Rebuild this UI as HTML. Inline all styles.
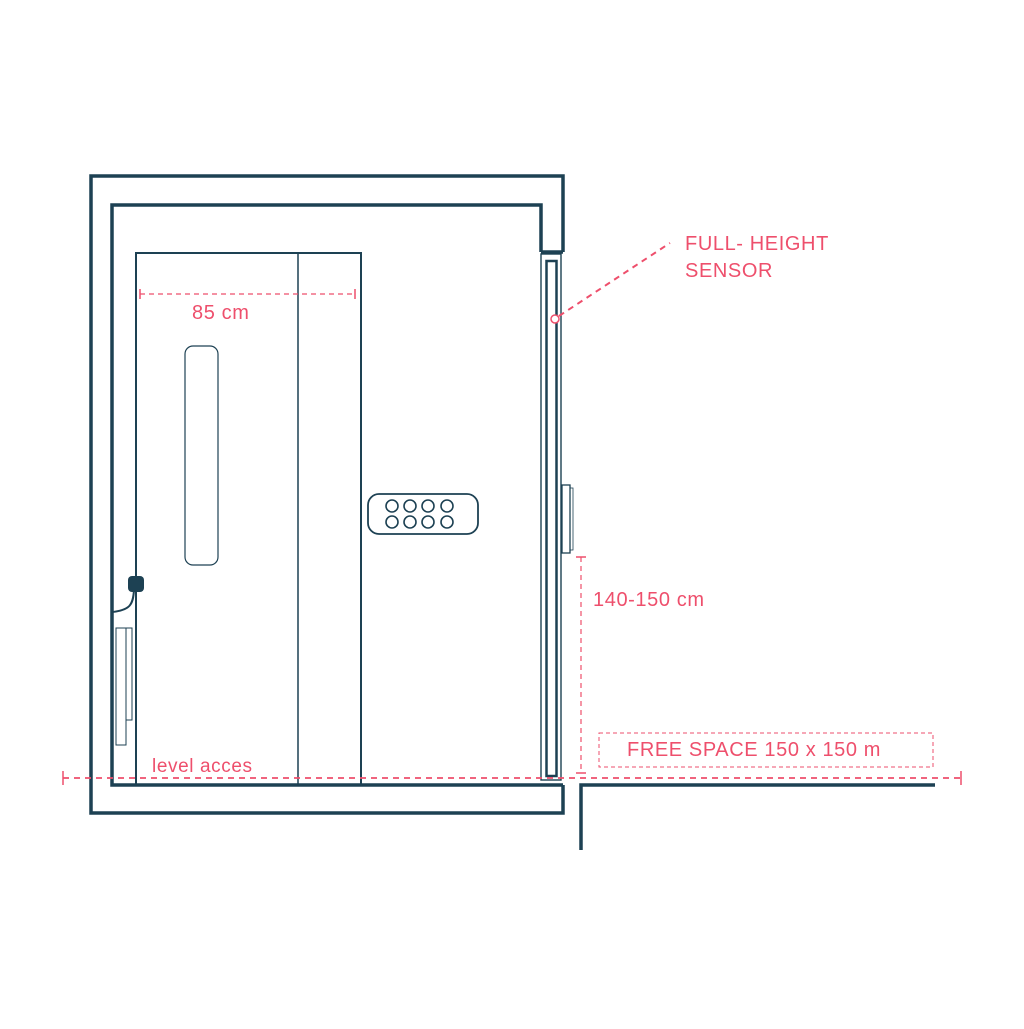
<!DOCTYPE html>
<html><head><style>html,body{margin:0;padding:0;background:#fff}</style></head><body>
<svg width="1024" height="1024" viewBox="0 0 1024 1024" xmlns="http://www.w3.org/2000/svg">
<rect width="1024" height="1024" fill="#fff"/>
<g fill="none" stroke="#1d4153" stroke-linejoin="miter">
<polyline points="563,252 563,176 91,176 91,813 563,813 563,785" stroke-width="3.5"/>
<polyline points="541,252 541,205 112,205 112,785 563,785" stroke-width="3.5"/>
<line x1="541" y1="252" x2="563" y2="252" stroke-width="3.5"/>
<polyline points="581,850 581,785 935,785" stroke-width="3.5"/>
<rect x="136" y="253" width="225" height="532" stroke-width="2"/>
<line x1="298" y1="253" x2="298" y2="785" stroke-width="1.5"/>
<rect x="185" y="346" width="33" height="219" rx="8" stroke-width="1.2"/>
<rect x="368" y="494" width="110" height="40" rx="11" stroke-width="1.8"/>
<g stroke-width="1.6">
<circle cx="392" cy="506" r="6"/><circle cx="410" cy="506" r="6"/><circle cx="428" cy="506" r="6"/><circle cx="447" cy="506" r="6"/>
<circle cx="392" cy="522" r="6"/><circle cx="410" cy="522" r="6"/><circle cx="428" cy="522" r="6"/><circle cx="447" cy="522" r="6"/>
</g>
<rect x="541" y="254" width="20" height="526" stroke-width="1.4"/>
<rect x="546.5" y="261" width="10" height="515" stroke-width="2.5"/>
<rect x="562" y="485" width="8" height="68" stroke-width="1.3"/>
<rect x="570" y="488" width="3" height="62" stroke-width="0.8"/>
<rect x="116" y="628" width="10" height="117" stroke-width="1"/>
<rect x="126" y="628" width="6" height="92" stroke-width="1"/>
<path d="M134,590 C133,605 130,610 112,612" stroke-width="2"/>
</g>
<rect x="128" y="576" width="16" height="16" rx="4" fill="#1d4153"/>
<g stroke="#ee4f6c" fill="none" stroke-width="1.5">
<line x1="63" y1="778" x2="961" y2="778" stroke-dasharray="6,5" stroke-width="1.8"/>
<line x1="63" y1="771" x2="63" y2="785"/><line x1="961" y1="771" x2="961" y2="785"/>
<line x1="140" y1="294" x2="355" y2="294" stroke-dasharray="5,4" stroke-width="1.2"/>
<line x1="140" y1="289" x2="140" y2="299"/><line x1="355" y1="289" x2="355" y2="299"/>
<line x1="581" y1="557" x2="581" y2="773" stroke-dasharray="5,4" stroke-width="1.2"/>
<line x1="576" y1="557" x2="586" y2="557"/><line x1="576" y1="773" x2="586" y2="773"/>
<rect x="599" y="733" width="334" height="34" stroke-dasharray="4,3" stroke-width="1"/>
<line x1="559" y1="316" x2="670" y2="243" stroke-dasharray="6,5" stroke-width="2"/>
<circle cx="555" cy="319" r="4" fill="#fff"/>
</g>
<g fill="#ee4f6c" font-family="Liberation Sans, sans-serif" font-size="20" letter-spacing="0.6">
<text x="192" y="319">85 cm</text>
<text x="152" y="772" font-size="19">level acces</text>
<text x="593" y="606">140-150 cm</text>
<text x="627" y="756">FREE SPACE 150 x 150 m</text>
<text x="685" y="250">FULL- HEIGHT</text>
<text x="685" y="277">SENSOR</text>
</g>
</svg>
</body></html>
